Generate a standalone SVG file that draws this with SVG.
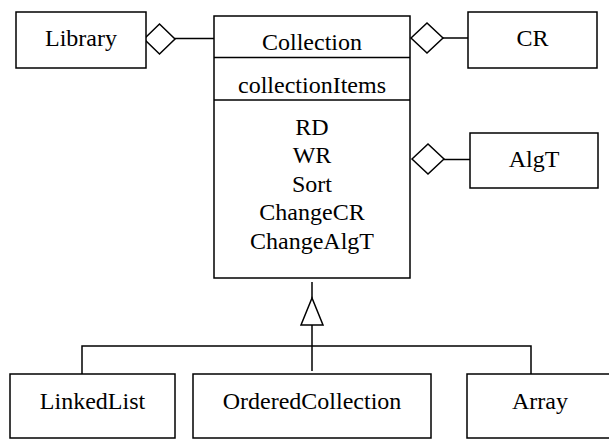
<svg xmlns="http://www.w3.org/2000/svg" width="609" height="439" viewBox="0 0 609 439">
<style>
.box{fill:#fff;stroke:#000;stroke-width:1.5}
.ln{fill:none;stroke:#000;stroke-width:1.5}
.dia{fill:#fff;stroke:#000;stroke-width:1.5}
text{font-family:"Liberation Serif","Times New Roman",serif;font-size:24px;fill:#000;text-anchor:middle}
</style>
<rect width="609" height="439" fill="#fff"/>
<g id="connectors">
<line class="ln" x1="175" y1="38.5" x2="214" y2="38.5"/>
<polygon class="dia" points="144,39 159.5,24 175,39 159.5,54"/>
<line class="ln" x1="443" y1="38" x2="468" y2="38"/>
<polygon class="dia" points="411,38 427,23 443,38 427,53"/>
<line class="ln" x1="444" y1="159.5" x2="470" y2="159.5"/>
<polygon class="dia" points="412,159 428,144 444,159 428,174"/>
<line class="ln" x1="312" y1="282" x2="312" y2="298"/>
<polygon class="dia" points="312,298 301,325 323,325"/>
<line class="ln" x1="312" y1="325" x2="312" y2="371"/>
<polyline class="ln" points="82,374 82,346 531,346 531,374"/>
</g>
<g id="Library">
<rect class="box" x="16" y="12" width="130" height="56"/>
<text x="81" y="46">Library</text>
</g>
<g id="Collection">
<rect class="box" x="214" y="16" width="196" height="262"/>
<line class="ln" x1="214" y1="57.5" x2="410" y2="57.5"/>
<line class="ln" x1="214" y1="100" x2="410" y2="100"/>
<text x="312" y="50">Collection</text>
<text x="312" y="92.5">collectionItems</text>
<text x="312" y="134.5">RD</text>
<text x="312" y="163">WR</text>
<text x="312" y="191.5">Sort</text>
<text x="312" y="220">ChangeCR</text>
<text x="312" y="248.5">ChangeAlgT</text>
</g>
<g id="CR">
<rect class="box" x="468" y="12" width="129" height="56"/>
<text x="532.5" y="46">CR</text>
</g>
<g id="AlgT">
<rect class="box" x="470" y="133" width="128" height="55"/>
<text x="534" y="167">AlgT</text>
</g>
<g id="LinkedList">
<rect class="box" x="10" y="374" width="165" height="64"/>
<text x="92.5" y="408.5">LinkedList</text>
</g>
<g id="OrderedCollection">
<rect class="box" x="193" y="374" width="238" height="64"/>
<text x="312" y="408.5">OrderedCollection</text>
</g>
<g id="Array">
<rect class="box" x="467" y="374" width="146" height="64"/>
<text x="540" y="408.5">Array</text>
</g>
</svg>
